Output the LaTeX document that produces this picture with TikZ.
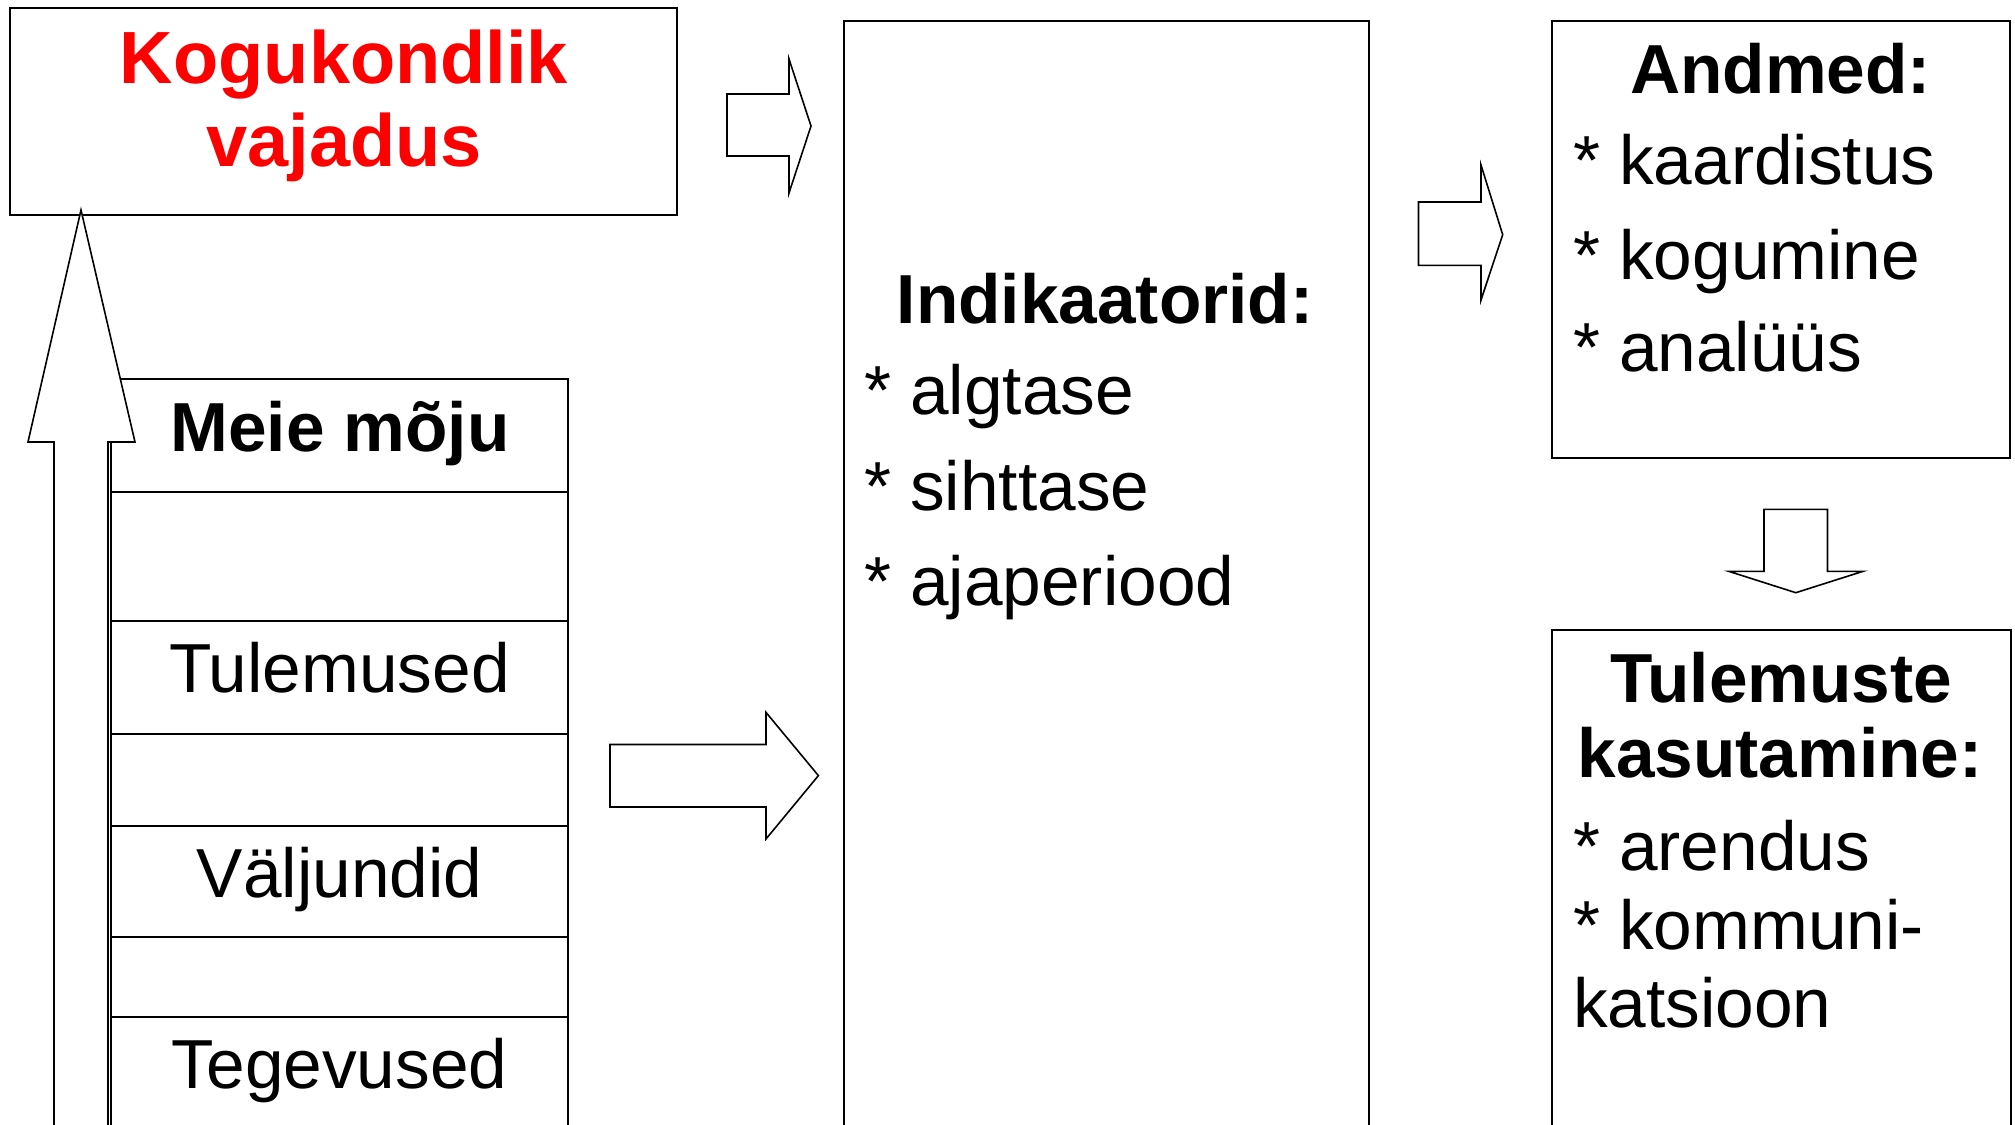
\documentclass[tikz,border=0pt]{standalone}
\usepackage{fontspec}
\setmainfont{Liberation Sans}
\begin{document}
\begin{tikzpicture}[x=0.5pt,y=-0.5pt,
  box/.style={draw=black, line width=1pt, fill=white, rectangle, inner sep=0pt, outer sep=0pt},
  rowbox/.style={box, minimum width=228.5pt},
  barrow/.style={draw=black, line width=0.8pt, fill=white, line join=miter},
  lbl/.style={inner sep=0pt, outer sep=0pt, font=\fontsize{34.7pt}{40pt}\selectfont},
  hd/.style={inner sep=0pt, outer sep=0pt, font=\fontsize{34.7pt}{40pt}\selectfont\bfseries},
  redhd/.style={inner sep=0pt, outer sep=0pt, text=red, font=\fontsize{37pt}{44pt}\selectfont\bfseries}]
\useasboundingbox (0,0) rectangle (2015,1125);
\clip (0,0) rectangle (2015,1125);

% boxes
\node[box, anchor=north west, minimum width=333.5pt, minimum height=103.5pt] (kog) at (10,8) {};
\node[rowbox, anchor=north west, minimum height=56.5pt] (meie) at (111,379) {};
\node[rowbox, anchor=north, minimum height=64.5pt] (r1) at (meie.south) {};
\node[rowbox, anchor=north, minimum height=56.5pt] (tul) at (r1.south) {};
\node[rowbox, anchor=north, minimum height=46pt] (r2) at (tul.south) {};
\node[rowbox, anchor=north, minimum height=55.5pt] (valj) at (r2.south) {};
\node[rowbox, anchor=north, minimum height=40pt] (r3) at (valj.south) {};
\node[rowbox, anchor=north, minimum height=61.5pt] (teg) at (r3.south) {};
\node[box, anchor=north west, minimum width=262.5pt, minimum height=559.75pt] (ind) at (843.5,20.5) {};
\node[box, anchor=north west, minimum width=229pt, minimum height=218.75pt] (andm) at (1552,20.5) {};
\node[box, anchor=north west, minimum width=229.25pt, minimum height=255.25pt] (tulk) at (1552,629.5) {};

% block arrows
\draw[barrow] (54,1140) -- (54,442) -- (28,442) -- (81,210) -- (135,442) -- (108,442) -- (108,1140) -- cycle;
\draw[barrow] (727,94) -- (789,94) -- (789,59) -- (811,126) -- (789,193) -- (789,156) -- (727,156) -- cycle;
\draw[barrow] (610,744.5) -- (766,744.5) -- (766,712.4) -- (818.4,775.6) -- (766,839) -- (766,807) -- (610,807) -- cycle;
\draw[barrow] (1418.5,202) -- (1481,202) -- (1481,165) -- (1502.7,234.7) -- (1481,300) -- (1481,265.3) -- (1418.5,265.3) -- cycle;
\draw[barrow] (1764,509.4) -- (1827.5,509.4) -- (1827.5,571.4) -- (1862.8,571.4) -- (1795.8,592.7) -- (1729,571.4) -- (1764,571.4) -- cycle;

% texts
\node[redhd, anchor=base] (t1) at (344,83.5) {Kogukondlik};
\node[redhd, anchor=base] (t2) at (344,166) {vajadus};
\node[hd, anchor=base] (t3) at (340,451) {Meie mõju};
\node[lbl, anchor=base] (t4) at (339.5,692.7) {Tulemused};
\node[lbl, anchor=base] (t5) at (339.5,897.5) {Väljundid};
\node[lbl, anchor=base] (t6) at (339.5,1088) {Tegevused};
\node[hd, anchor=base] (t7) at (1105,323.4) {Indikaatorid:};
\node[lbl, anchor=base west] (t8) at (864,414.6) {* algtase};
\node[lbl, anchor=base west] (t9) at (864,510) {* sihttase};
\node[lbl, anchor=base west] (t10) at (864,605.3) {* ajaperiood};
\node[hd, anchor=base] (t11) at (1780.5,93) {Andmed:};
\node[lbl, anchor=base west] (t12) at (1573,184.5) {* kaardistus};
\node[lbl, anchor=base west] (t13) at (1573,279.6) {* kogumine};
\node[lbl, anchor=base west] (t14) at (1573,371.4) {* analüüs};
\node[hd, anchor=base] (t15) at (1781,702) {Tulemuste};
\node[hd, anchor=base] (t16) at (1780,777.4) {kasutamine:};
\node[lbl, anchor=base west] (t17) at (1573,870.5) {* arendus};
\node[lbl, anchor=base west] (t18) at (1573,949) {* kommuni-};
\node[lbl, anchor=base west] (t19) at (1573,1027) {katsioon};
\end{tikzpicture}
\end{document}
